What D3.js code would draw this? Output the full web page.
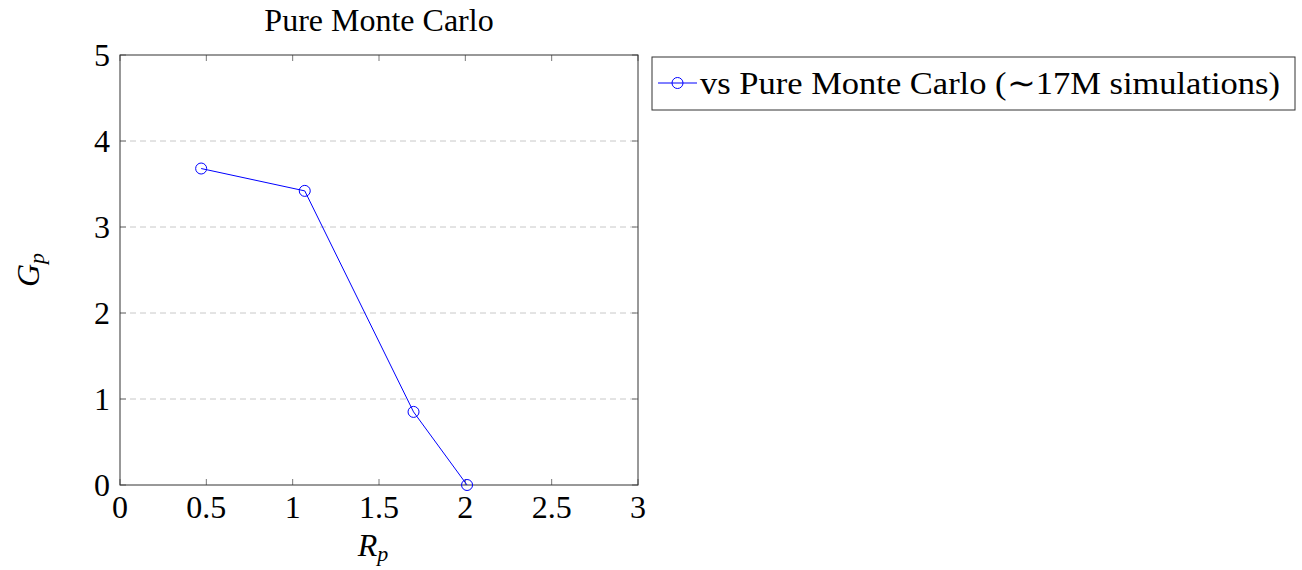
<!DOCTYPE html>
<html lang="en">
<head>
    <meta charset="UTF-8">
    <title>Pure Monte Carlo</title>
    <script src="https://d3js.org/d3.v7.min.js"></script>
    <style>
        body, html { margin: 0; padding: 0; background: #fff; }
        svg text { font-family: "Liberation Serif", serif; fill: #000; }
        .grid line { stroke: #c8c8c8; stroke-dasharray: 6 4; }
    </style>
</head>
<body>
<svg id="chart" width="1302" height="570"></svg>
<script>
    // data
    const rp = [0.47, 1.07, 1.70, 2.01];
    const gp = [3.68, 3.42, 0.85, 0.0];
    const xTicks = [0, 0.5, 1, 1.5, 2, 2.5, 3];
    const yTicks = [0, 1, 2, 3, 4, 5];
    const gridTicks = [1, 2, 3, 4];
    const seriesName = "vs Pure Monte Carlo (\u223c17M simulations)";

    const plotL = 120, plotR = 638, plotT = 55, plotB = 485;
    const fs = 32;
    const svg = d3.select("#chart");

    const x = d3.scaleLinear().domain([0, 3]).range([plotL, plotR]);
    const y = d3.scaleLinear().domain([0, 5]).range([plotB, plotT]);

    // dashed horizontal grid
    svg.append("g").attr("class", "grid")
        .selectAll("line").data(gridTicks).enter().append("line")
        .attr("x1", plotL).attr("x2", plotR)
        .attr("y1", d => y(d)).attr("y2", d => y(d));

    // ticks on all four sides, pointing inward
    const tickLen = 6;
    const ticks = svg.append("g").attr("stroke", "#555").attr("stroke-width", 0.8);
    xTicks.forEach(t => {
        ticks.append("line").attr("x1", x(t)).attr("x2", x(t)).attr("y1", plotB).attr("y2", plotB - tickLen);
        ticks.append("line").attr("x1", x(t)).attr("x2", x(t)).attr("y1", plotT).attr("y2", plotT + tickLen);
    });
    yTicks.forEach(t => {
        ticks.append("line").attr("x1", plotL).attr("x2", plotL + tickLen).attr("y1", y(t)).attr("y2", y(t));
        ticks.append("line").attr("x1", plotR).attr("x2", plotR - tickLen).attr("y1", y(t)).attr("y2", y(t));
    });

    // frame
    svg.append("rect")
        .attr("x", plotL).attr("y", plotT)
        .attr("width", plotR - plotL).attr("height", plotB - plotT)
        .attr("fill", "none").attr("stroke", "#333").attr("stroke-width", 1);

    // tick labels
    svg.append("g").selectAll("text").data(xTicks).enter().append("text")
        .attr("x", d => x(d)).attr("y", plotB + 33)
        .attr("text-anchor", "middle").attr("font-size", fs)
        .text(d => d);
    svg.append("g").selectAll("text").data(yTicks).enter().append("text")
        .attr("x", plotL - 10).attr("y", d => y(d) + 11)
        .attr("text-anchor", "end").attr("font-size", fs)
        .text(d => d);

    // title and axis labels
    svg.append("text").attr("x", (plotL + plotR) / 2).attr("y", 31)
        .attr("text-anchor", "middle").attr("font-size", fs)
        .text("Pure Monte Carlo");

    const xl = svg.append("text").attr("x", (plotL + plotR) / 2 - 6).attr("y", 556)
        .attr("text-anchor", "middle").attr("font-size", fs).attr("font-style", "italic");
    xl.append("tspan").text("R");
    xl.append("tspan").attr("font-size", 22).attr("dy", 5).text("p");

    const yl = svg.append("text")
        .attr("transform", `translate(39,${(plotT + plotB) / 2}) rotate(-90)`)
        .attr("text-anchor", "middle").attr("font-size", fs).attr("font-style", "italic");
    yl.append("tspan").text("G");
    yl.append("tspan").attr("font-size", 22).attr("dy", 5).text("p");

    // series
    const pts = rp.map((v, i) => [v, gp[i]]);
    svg.append("path").datum(pts)
        .attr("fill", "none").attr("stroke", "#0000ff").attr("stroke-width", 1)
        .attr("d", d3.line().x(d => x(d[0])).y(d => y(d[1])));
    svg.append("g").selectAll("circle").data(pts).enter().append("circle")
        .attr("cx", d => x(d[0])).attr("cy", d => y(d[1])).attr("r", 5.5)
        .attr("fill", "none").attr("stroke", "#0000ff").attr("stroke-width", 1);

    // legend
    const lg = svg.append("g");
    lg.append("rect").attr("x", 652).attr("y", 57).attr("width", 643).attr("height", 53)
        .attr("fill", "#fff").attr("stroke", "#333").attr("stroke-width", 1);
    lg.append("line").attr("x1", 658).attr("x2", 697).attr("y1", 83).attr("y2", 83)
        .attr("stroke", "#0000ff").attr("stroke-width", 1);
    lg.append("circle").attr("cx", 677.5).attr("cy", 83).attr("r", 5.5)
        .attr("fill", "none").attr("stroke", "#0000ff").attr("stroke-width", 1);
    lg.append("text").attr("x", 700).attr("y", 94).attr("font-size", fs)
        .attr("textLength", 580).attr("lengthAdjust", "spacingAndGlyphs")
        .text(seriesName);
</script>
</body>
</html>
